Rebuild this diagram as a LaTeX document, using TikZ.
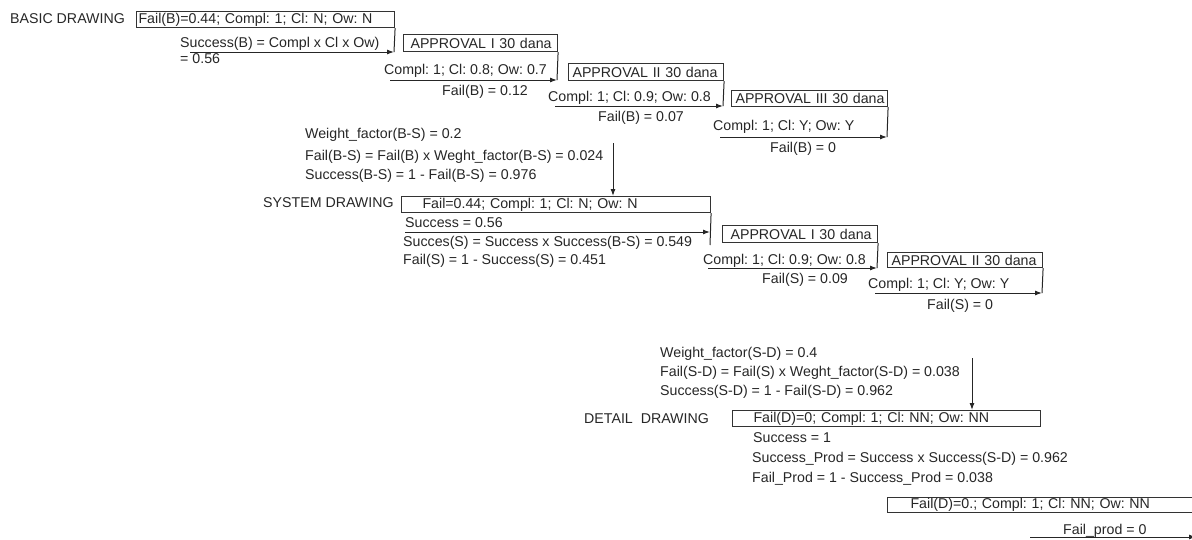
\documentclass[tikz,border=0pt]{standalone}
\usepackage{fontspec}
\setmainfont{Liberation Sans}
\usetikzlibrary{arrows.meta}
\frenchspacing
\begin{document}
\frenchspacing
\begin{tikzpicture}[x=1pt,y=-1pt,
  txt/.style={anchor=base west, inner sep=0pt, font=\fontsize{14.2}{16}\selectfont\frenchspacing, text=black!85},
  box/.style={draw=black!80, line width=1.1pt, anchor=north west, inner xsep=0pt, inner ysep=0pt, align=left, font=\fontsize{14.2}{16}\selectfont\frenchspacing, text=black!85},
  conn/.style={draw=black!85, line width=1pt},
  arr/.style={conn, -{Latex[length=7pt,width=5pt]}}]
\clip (0,0) rectangle (1192,539);
% ---------- BASIC DRAWING ----------
\node[txt] (t1) at (10,23) {BASIC DRAWING};
\node[box, text width=258pt, minimum height=16pt] (nB) at (136,11) {\hspace*{2pt}Fail(B)=0.44; Compl: 1; Cl: N; Ow: N};
\node[txt] (t2) at (180,47) {Success(B) = Compl x Cl x Ow)};
\node[txt] (t3) at (180,63) {= 0.56};
\coordinate (cB) at (394,52);
\coordinate (sB) at (190,52);
\draw[conn] (nB.south east) -- (cB);
\draw[arr] (sB) -- (cB);

\node[box, text width=154pt, minimum height=17pt] (aB1) at (403,34) {\hspace*{7pt}APPROVAL I 30 dana};
\node[txt] (t4) at (384,74) {Compl: 1; Cl: 0.8; Ow: 0.7};
\node[txt] (t5) at (442,95) {Fail(B) = 0.12};
\coordinate (cB1) at (557,80);
\coordinate (sB1) at (390,80);
\draw[conn] (aB1.south east) -- (cB1);
\draw[arr] (sB1) -- (cB1);

\node[box, text width=155pt, minimum height=17pt] (aB2) at (568,63) {\hspace*{4pt}APPROVAL II 30 dana};
\node[txt] (t6) at (548,101) {Compl: 1; Cl: 0.9; Ow: 0.8};
\node[txt] (t7) at (598,121) {Fail(B) = 0.07};
\coordinate (cB2) at (723,106);
\coordinate (sB2) at (555,106);
\draw[conn] (aB2.south east) -- (cB2);
\draw[arr] (sB2) -- (cB2);

\node[box, text width=156pt, minimum height=16pt] (aB3) at (731,90) {\hspace*{4pt}APPROVAL III 30 dana};
\node[txt] (t8) at (713,130) {Compl: 1; Cl: Y; Ow: Y};
\node[txt] (t9) at (770,152) {Fail(B) = 0};
\coordinate (cB3) at (887,137);
\coordinate (sB3) at (720,137);
\draw[conn] (aB3.south east) -- (cB3);
\draw[arr] (sB3) -- (cB3);

% ---------- B-S ----------
\node[txt] (t10) at (305,138) {Weight\_factor(B-S) = 0.2};
\node[txt] (t11) at (305,160) {Fail(B-S) = Fail(B) x Weght\_factor(B-S) = 0.024};
\node[txt] (t12) at (305,179) {Success(B-S) = 1 - Fail(B-S) = 0.976};
\coordinate (sBS) at (613,143);

% ---------- SYSTEM DRAWING ----------
\node[txt] (t13) at (263,207) {SYSTEM DRAWING};
\node[box, text width=309pt, minimum height=16pt] (sys) at (401,196) {\hspace*{21pt}Fail=0.44; Compl: 1; Cl: N; Ow: N};
\draw[arr] (sBS) -- (sBS |- sys.north);
\node[txt] (t14) at (405,227) {Success = 0.56};
\node[txt] (t15) at (403,246) {Succes(S) = Success x Success(B-S) = 0.549};
\node[txt] (t16) at (403,264) {Fail(S) = 1 - Success(S) = 0.451};
\coordinate (cS) at (710,232);
\coordinate (eS) at (710,245);
\coordinate (sS) at (405,232);
\draw[conn] (sys.south east) -- (eS);
\draw[arr] (sS) -- (cS);

\node[box, text width=155pt, minimum height=17pt] (aS1) at (722,225) {\hspace*{8pt}APPROVAL I 30 dana};
\node[txt] (t17) at (703,264) {Compl: 1; Cl: 0.9; Ow: 0.8};
\node[txt] (t18) at (762,283) {Fail(S) = 0.09};
\coordinate (cS1) at (877,268);
\coordinate (sS1) at (708,268);
\draw[conn] (aS1.south east) -- (cS1);
\draw[arr] (sS1) -- (cS1);

\node[box, text width=155pt, minimum height=15pt] (aS2) at (887,252) {\hspace*{4pt}APPROVAL II 30 dana};
\node[txt] (t19) at (868,288) {Compl: 1; Cl: Y; Ow: Y};
\node[txt] (t20) at (927,309) {Fail(S) = 0};
\coordinate (cS2) at (1042,293);
\coordinate (sS2) at (875,293);
\draw[conn] (aS2.south east) -- (cS2);
\draw[arr] (sS2) -- (cS2);

% ---------- S-D ----------
\node[txt] (t21) at (660,357) {Weight\_factor(S-D) = 0.4};
\node[txt] (t22) at (660,376) {Fail(S-D) = Fail(S) x Weght\_factor(S-D) = 0.038};
\node[txt] (t23) at (660,395) {Success(S-D) = 1 - Fail(S-D) = 0.962};
\coordinate (sSD) at (972,358);

% ---------- DETAIL DRAWING ----------
\node[txt] (t24) at (584,423) {DETAIL\ \ DRAWING};
\node[box, text width=308pt, minimum height=16pt] (det) at (732,410) {\hspace*{21pt}Fail(D)=0; Compl: 1; Cl: NN; Ow: NN};
\draw[arr] (sSD) -- (sSD |- det.north);
\node[txt] (t25) at (753,442) {Success = 1};
\node[txt] (t26) at (752,462) {Success\_Prod = Success x Success(S-D) = 0.962};
\node[txt] (t27) at (752,482) {Fail\_Prod = 1 - Success\_Prod = 0.038};

\node[box, text width=305pt, minimum height=15pt] (fin) at (887,497) {\hspace*{23pt}Fail(D)=0.; Compl: 1; Cl: NN; Ow: NN};
\node[txt] (t28) at (1063,534) {Fail\_prod = 0};
\coordinate (sF) at (1030,537);
\coordinate (cF) at (1196,537);
\draw[arr] (sF) -- (cF);
\end{tikzpicture}
\end{document}
